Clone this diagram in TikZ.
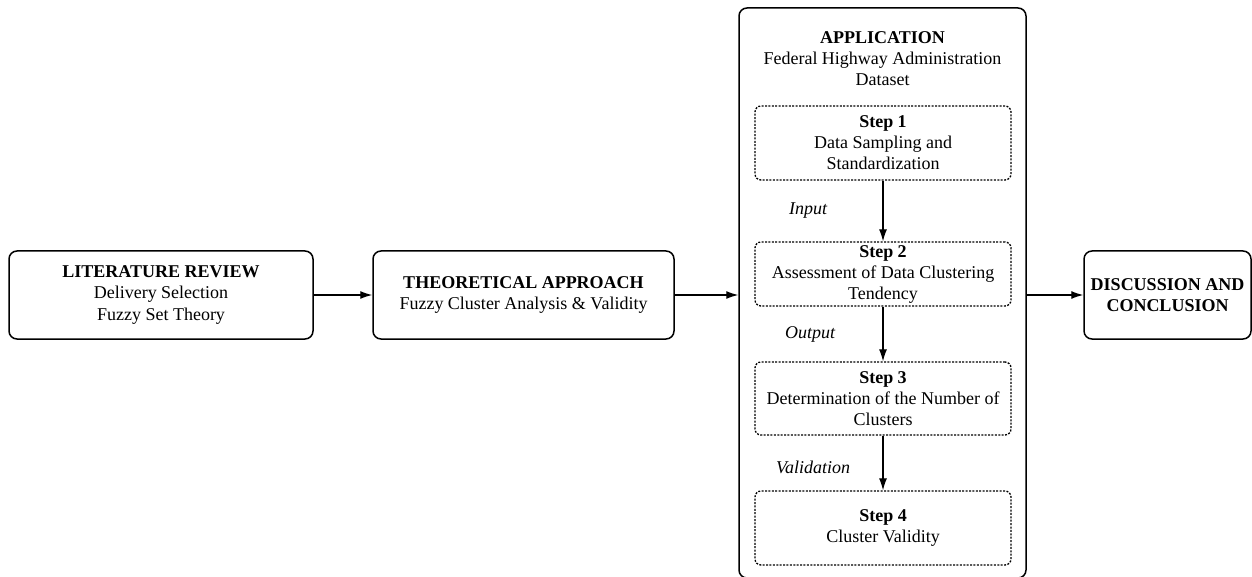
\documentclass[tikz,border=0pt]{standalone}
\usepackage{fontspec}
\setmainfont{Liberation Serif}
\usetikzlibrary{arrows.meta}

\begin{document}
\begin{tikzpicture}[x=0.5pt,y=-0.5pt,
        font=\fontsize{9}{10.5}\selectfont,
        caja/.style={draw,line width=0.75pt,rounded corners=4pt,align=center,inner sep=0pt,minimum height=44pt},
        paso/.style={draw,line width=0.65pt,rounded corners=3pt,dash pattern=on 1pt off 0.7pt,align=center,inner sep=0pt,minimum width=128pt},
        flecha/.style={-{Latex[length=6pt,width=4pt]},line width=0.6pt},
        etiqueta/.style={font=\fontsize{9}{10.5}\selectfont\itshape}]
        \useasboundingbox (0,0) rectangle (1252,577);

        % Cajas principales
        \node[caja,minimum width=152pt] (lit) at (161,295) {\textbf{LITERATURE REVIEW}\\Delivery Selection\\Fuzzy Set Theory};
        \node[caja,minimum width=150.5pt] (teo) at (523.5,295) {\textbf{THEORETICAL APPROACH}\\Fuzzy Cluster Analysis \& Validity};
        \node[caja,minimum width=143.5pt,minimum height=285pt] (app) at (882.5,293) {};
        \node[align=center] (apptit) at (882.5,59) {\textbf{APPLICATION}\\Federal Highway Administration\\Dataset};
        \node[caja,minimum width=83.5pt] (disc) at (1167.5,295) {\textbf{DISCUSSION AND}\\\textbf{CONCLUSION}};

        % Pasos
        \node[paso,minimum height=37pt] (p1) at (883,143) {\textbf{Step 1}\\Data Sampling and\\Standardization};
        \node[paso,minimum height=32pt] (p2) at (883,274) {\textbf{Step 2}\\Assessment of Data Clustering\\Tendency};
        \node[paso,minimum height=36.5pt] (p3) at (883,398.5) {\textbf{Step 3}\\Determination of the Number of\\Clusters};
        \node[paso,minimum height=37pt] (p4) at (883,528) {\textbf{Step 4}\\Cluster Validity};

        % Flechas
        \draw[flecha] (lit.east) -- (teo.west);
        \draw[flecha] (teo.east) -- (teo.east -| app.west);
        \draw[flecha] (app.east |- disc.west) -- (disc.west);
        \draw[flecha] (p1) -- (p2);
        \draw[flecha] (p2) -- (p3);
        \draw[flecha] (p3) -- (p4);

        % Etiquetas
        \node[etiqueta] (lin) at (808,211) {Input};
        \node[etiqueta] (lout) at (810,334) {Output};
        \node[etiqueta] (lval) at (813,467) {Validation};
    \end{tikzpicture}
\end{document}
